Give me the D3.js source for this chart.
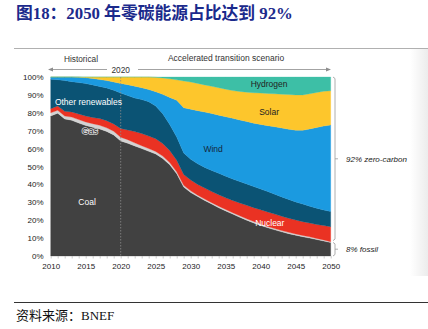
<!DOCTYPE html>
<html>
<head>
<meta charset="utf-8">
<script src="https://cdn.jsdelivr.net/npm/d3@7"></script>
<style>
  html, body { margin: 0; padding: 0; background: #fff; }
  svg { display: block; }
</style>
</head>
<body>
<svg id="chart" width="428" height="329"></svg>
<script>
// ---------- DATA (share of generation, %) ----------
const years = [2010,2011,2012,2013,2014,2015,2016,2017,2018,2019,2020,2021,2022,2023,2024,2025,2026,2027,2028,2029,2030,2031,2032,2033,2034,2035,2036,2037,2038,2039,2040,2041,2042,2043,2044,2045,2046,2047,2048,2049,2050];
const coal     = [78.2,79.8,76.6,75.8,74.3,72.9,71.9,71.0,69.6,67.6,64.2,63.0,61.5,60.0,58.5,57.0,54.5,51.0,46.0,38.5,35.5,33.2,31.0,29.0,27.0,25.2,23.4,21.7,20.0,18.5,17.1,15.8,14.6,13.5,12.5,11.6,10.8,10.0,9.2,8.4,7.5];
const gas      = [1.8,1.6,1.6,1.8,1.9,2.0,2.0,2.0,2.0,2.1,2.1,2.0,1.7,1.6,1.5,1.4,1.3,1.2,1.0,1.0,0.9,0.8,0.8,0.8,0.8,0.8,0.8,0.8,0.8,0.8,0.7,0.7,0.7,0.7,0.7,0.7,0.7,0.7,0.6,0.6,0.5];
const nuclear  = [2.3,2.4,2.6,2.9,3.1,3.3,3.5,3.8,4.0,4.1,4.9,5.4,6.3,6.8,7.0,7.1,7.0,6.8,6.5,6.0,6.1,6.0,6.2,6.2,6.4,6.5,6.8,7.1,7.5,7.7,8.0,8.1,8.1,8.0,7.9,7.8,7.7,7.7,7.8,8.0,8.4];
const otherRen = [16.5,14.7,17.2,16.9,17.6,18.1,18.2,17.9,18.2,18.8,19.8,19.2,18.7,19.0,19.2,18.3,16.7,14.5,13.0,12.0,11.5,11.5,11.5,11.8,12.0,12.1,12.0,12.0,11.9,11.8,11.6,11.4,11.1,10.8,10.5,10.1,9.8,9.4,9.1,8.7,8.4];
const wind     = [1.2,1.5,2.0,2.6,3.0,3.3,3.6,3.9,4.2,4.6,5.4,6.1,6.7,6.6,6.8,8.0,10.8,15.1,20.5,25.3,28.0,29.7,30.9,31.8,32.5,33.2,33.9,34.4,34.9,35.4,36.1,36.8,37.7,38.5,39.2,40.1,41.2,43.2,45.1,46.9,48.4];
const solar    = [0,0,0,0,0.1,0.4,0.8,1.4,2.0,2.8,3.6,4.3,5.1,6.0,7.0,8.0,9.2,10.4,11.4,15.0,15.2,15.2,15.2,15.2,15.3,15.4,15.5,15.9,16.4,17.0,17.5,18.0,18.4,18.9,19.4,19.7,19.8,19.6,19.6,19.4,19.1];
const hydrogen = [0,0,0,0,0,0,0,0,0,0,0,0,0,0,0,0.2,0.5,1.0,1.6,2.2,2.8,3.6,4.4,5.2,6.0,6.8,7.6,8.1,8.5,8.8,9.0,9.2,9.4,9.6,9.8,10.0,10.0,9.4,8.6,8.0,7.7];

const seriesNames = ["Coal","Gas","Nuclear","Other renewables","Wind","Solar","Hydrogen"];
const seriesData  = [coal, gas, nuclear, otherRen, wind, solar, hydrogen];
const seriesColors = ["#414141","#d3d3d3","#ea3223","#0b5374","#1b9ae0","#fdc62c","#3dbfa6"];

const yTicks = [0,10,20,30,40,50,60,70,80,90,100];
const xTickLabels = [2010,2015,2020,2025,2030,2035,2040,2045,2050];

const titleText = "图18：2050 年零碳能源占比达到 92%";
const sourceText = "资料来源：BNEF";

// ---------- BUILD ----------
const table = years.map((yr, i) => {
  const row = { year: yr };
  seriesNames.forEach((n, k) => row[n] = seriesData[k][i]);
  return row;
});

const svg = d3.select("#chart");
const sans = "'Liberation Sans', Arial, sans-serif";

const x = d3.scaleLinear().domain([2010, 2050]).range([50.7, 330.7]);
const y = d3.scaleLinear().domain([0, 100]).range([256, 77]);

// right-side faint shadow panel
const defs = svg.append("defs");
const grad = defs.append("linearGradient").attr("id", "shade").attr("x1", "0").attr("x2", "1");
grad.append("stop").attr("offset", "0").attr("stop-color", "#ffffff");
grad.append("stop").attr("offset", "1").attr("stop-color", "#ececec");
svg.append("rect").attr("x", 410).attr("y", 49).attr("width", 18).attr("height", 227).attr("fill", "url(#shade)");

// Title
svg.append("text")
  .attr("x", 16).attr("y", 19)
  .attr("font-family", "'Liberation Serif', 'Noto Sans CJK SC', serif")
  .attr("font-weight", "bold")
  .attr("font-size", 16.8)
  .attr("fill", "#1b2a8c")
  .text(titleText);

// frame lines
svg.append("line").attr("x1", 14).attr("x2", 428).attr("y1", 48.5).attr("y2", 48.5)
  .attr("stroke", "#b0b0b0").attr("stroke-width", 1);
svg.append("line").attr("x1", 14).attr("x2", 428).attr("y1", 302.5).attr("y2", 302.5)
  .attr("stroke", "#333").attr("stroke-width", 1);

// Source
svg.append("text")
  .attr("x", 16).attr("y", 320)
  .attr("font-family", "'Liberation Serif', 'Noto Sans CJK SC', serif")
  .attr("font-size", 13)
  .attr("fill", "#111")
  .text(sourceText);

// Stack
const stack = d3.stack().keys(seriesNames);
const layers = stack(table);
const area = d3.area()
  .x(d => x(d.data.year))
  .y0(d => y(d[0]))
  .y1(d => y(d[1]))
  .curve(d3.curveLinear);

svg.append("g").selectAll("path")
  .data(layers)
  .join("path")
  .attr("d", area)
  .attr("fill", (d, i) => seriesColors[i])
  .attr("stroke", (d, i) => seriesColors[i])
  .attr("stroke-width", 0.3);

// 2020 dotted divider
svg.append("line")
  .attr("x1", x(2020)).attr("x2", x(2020))
  .attr("y1", y(100)).attr("y2", y(0))
  .attr("stroke", "#8a8a8a").attr("stroke-width", 0.8)
  .attr("stroke-dasharray", "1.5,1.5");

// Y axis labels
svg.append("g").selectAll("text")
  .data(yTicks)
  .join("text")
  .attr("x", 43.5)
  .attr("y", d => y(d) + 3)
  .attr("text-anchor", "end")
  .attr("font-family", sans)
  .attr("font-size", 8)
  .attr("fill", "#222")
  .text(d => d + "%");

// X axis: minor ticks every year, labels every 5
const xAxis = d3.axisBottom(x)
  .tickValues(years)
  .tickSize(2.5)
  .tickFormat(d => xTickLabels.includes(d) ? d : "");
const gx = svg.append("g").attr("transform", "translate(0,256)").call(xAxis);
gx.select(".domain").remove();
gx.selectAll(".tick line").attr("stroke", "#b5b5b5").attr("stroke-width", 0.7);
gx.selectAll(".tick text")
  .attr("font-family", sans).attr("font-size", 8).attr("fill", "#222")
  .attr("dy", "0.2em").attr("y", 11.2);

// Top annotations
const annoColor = "#333";
svg.append("text").attr("x", 81).attr("y", 62).attr("text-anchor", "middle")
  .attr("font-family", sans).attr("font-size", 8.3).attr("fill", annoColor).text("Historical");
svg.append("text").attr("x", 226).attr("y", 61).attr("text-anchor", "middle")
  .attr("font-family", sans).attr("font-size", 8.5).attr("fill", annoColor).text("Accelerated transition scenario");
svg.append("text").attr("x", x(2020)).attr("y", 72.5).attr("text-anchor", "middle")
  .attr("font-family", sans).attr("font-size", 8.3).attr("fill", annoColor).text("2020");
// arrows
const arrowColor = "#8c8c8c";
svg.append("line").attr("x1", 107).attr("x2", 52).attr("y1", 69.5).attr("y2", 69.5)
  .attr("stroke", arrowColor).attr("stroke-width", 0.8);
svg.append("path").attr("d", "M48,69.5 L53,67.5 L53,71.5 Z").attr("fill", arrowColor);
svg.append("line").attr("x1", 138).attr("x2", 326).attr("y1", 69.5).attr("y2", 69.5)
  .attr("stroke", arrowColor).attr("stroke-width", 0.8);
svg.append("path").attr("d", "M331,69.5 L326,67.5 L326,71.5 Z").attr("fill", arrowColor);

// Series labels inside areas
const labels = [
  { t: "Other renewables", yr: 2010.6, v: 84.2, c: "#ffffff", a: "start", halo: null },
  { t: "Gas",              yr: 2015.6, v: 68.0, c: "#2a2a2a", a: "middle", halo: "#d8d8d8" },
  { t: "Coal",             yr: 2015.2, v: 28.6, c: "#ffffff", a: "middle", halo: null },
  { t: "Wind",             yr: 2033.2, v: 58.0, c: "#14263a", a: "middle", halo: null },
  { t: "Solar",            yr: 2041.2, v: 78.5, c: "#222222", a: "middle", halo: null },
  { t: "Hydrogen",         yr: 2041.2, v: 94.2, c: "#222222", a: "middle", halo: null },
  { t: "Nuclear",          yr: 2041.3, v: 16.6, c: "#ffffff", a: "middle", halo: null }
];
svg.append("g").selectAll("text")
  .data(labels)
  .join("text")
  .attr("x", d => x(d.yr))
  .attr("y", d => y(d.v))
  .attr("text-anchor", d => d.a)
  .attr("font-family", sans)
  .attr("font-size", 8.5)
  .attr("fill", d => d.c)
  .attr("stroke", d => d.halo || "none")
  .attr("stroke-width", d => d.halo ? 1.6 : 0)
  .attr("paint-order", "stroke")
  .text(d => d.t);

// Right brackets
const brC = "#9a9a9a";
const bx = 335;
const zeroTop = y(100), zeroBot = y(8.6), fossTop = y(7.6), fossBot = y(0);
svg.append("path")
  .attr("d", `M${bx-2},${zeroTop} L${bx},${zeroTop+1.5} L${bx},${zeroBot-1.5} L${bx-2},${zeroBot}`)
  .attr("fill", "none").attr("stroke", brC).attr("stroke-width", 0.8);
svg.append("line").attr("x1", bx).attr("x2", bx + 3)
  .attr("y1", (zeroTop + zeroBot) / 2).attr("y2", (zeroTop + zeroBot) / 2)
  .attr("stroke", brC).attr("stroke-width", 0.8);
svg.append("path")
  .attr("d", `M${bx-2},${fossTop} L${bx},${fossTop+1.5} L${bx},${fossBot-1.5} L${bx-2},${fossBot}`)
  .attr("fill", "none").attr("stroke", brC).attr("stroke-width", 0.8);
svg.append("line").attr("x1", bx).attr("x2", bx + 3)
  .attr("y1", (fossTop + fossBot) / 2).attr("y2", (fossTop + fossBot) / 2)
  .attr("stroke", brC).attr("stroke-width", 0.8);

svg.append("text").attr("x", 346).attr("y", (zeroTop + zeroBot) / 2 + 3)
  .attr("font-family", sans).attr("font-style", "italic").attr("font-size", 8)
  .attr("fill", "#222").text("92% zero-carbon");
svg.append("text").attr("x", 346).attr("y", (fossTop + fossBot) / 2 + 3)
  .attr("font-family", sans).attr("font-style", "italic").attr("font-size", 8)
  .attr("fill", "#222").text("8% fossil");
</script>
</body>
</html>
